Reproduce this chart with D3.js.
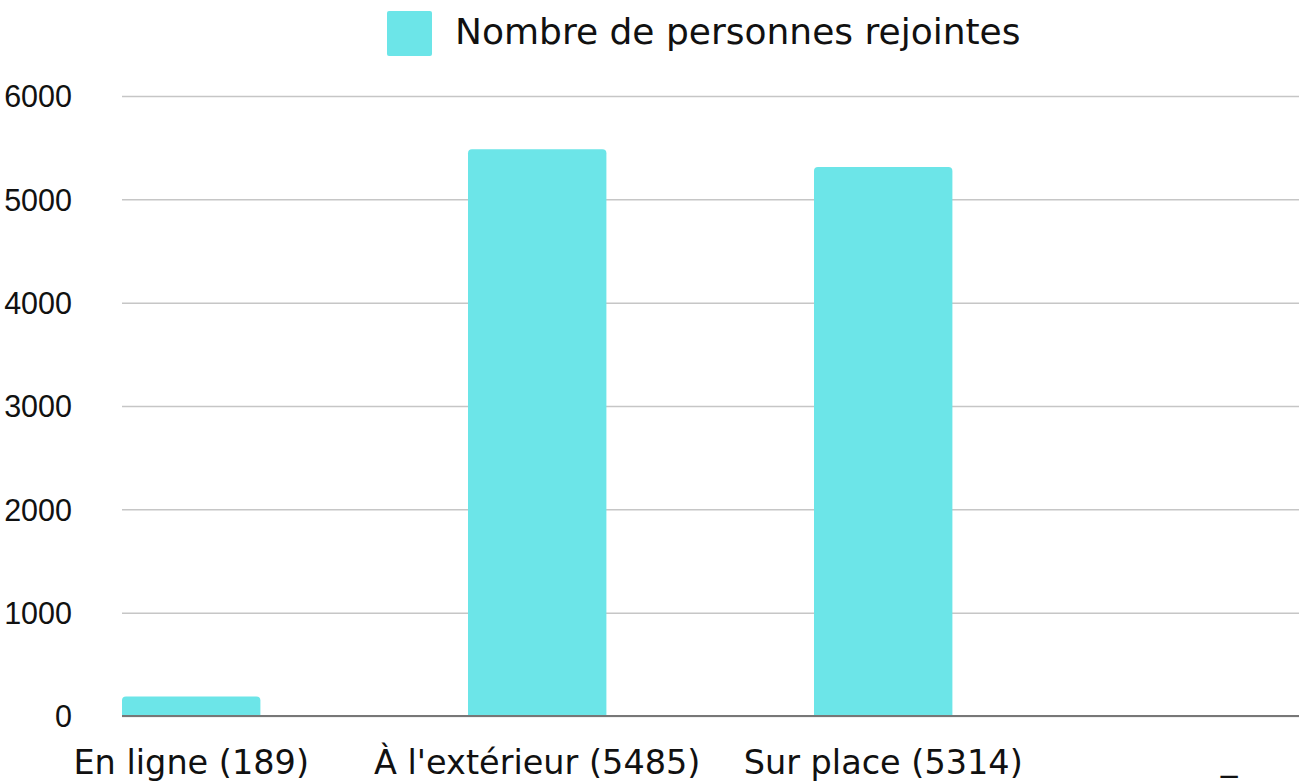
<!DOCTYPE html>
<html>
<head>
<meta charset="utf-8">
<script src="https://cdn.jsdelivr.net/npm/d3@7"></script>
<style>
  body { margin: 0; background: #fff; }
  text { fill: #111; }
</style>
</head>
<body>
<div id="chart-area"></div>
<script>
//======================= DATA =======================
var categories = ["En ligne (189)", "À l'extérieur (5485)", "Sur place (5314)", "_"];
var values = [189, 5485, 5314, 0];
var yTicks = [0, 1000, 2000, 3000, 4000, 5000, 6000];
var seriesName = "Nombre de personnes rejointes";

//======================= LAYOUT =======================
var W = 1303, H = 783;
var margins = { left: 122, right: 4, top: 96, bottom: 67 };
var height = H - margins.top - margins.bottom;
var barColor = "#6ce5e8";
var wideFont = "'DejaVu Sans', sans-serif";
var numFont = "'Liberation Sans', Arial, sans-serif";

var svg = d3.select("#chart-area")
    .append("svg")
    .attr("width", W)
    .attr("height", H);

var g = svg.append("g")
    .attr("transform", "translate(" + margins.left + ", " + margins.top + ")");

// band scale: each category gets 346px, bar sits at the left of its band
var x = d3.scaleBand()
    .domain(categories)
    .range([0, 346 * categories.length])
    .paddingInner(0)
    .paddingOuter(0);
var barW = x.bandwidth() * 0.4;

var y = d3.scaleLinear()
    .domain([0, 6000])
    .range([height, 0]);

var plotRight = W - margins.right - margins.left;

// gridlines + tick labels
var yAxisCall = d3.axisLeft(y)
    .tickValues(yTicks)
    .tickFormat(d3.format("d"))
    .tickSize(-plotRight)
    .tickPadding(50);
var yAxis = g.append("g")
    .attr("class", "y axis")
    .call(yAxisCall);
yAxis.select(".domain").remove();
yAxis.selectAll("line")
    .style("stroke", "#c6c6c6")
    .style("stroke-width", 1.5);
yAxis.selectAll("text")
    .style("font-size", "30.5px")
    .style("font-family", numFont)
    .style("fill", "#111")
    .attr("dy", "0.36em");

// bars, rounded top corners only
function barPath(d, i) {
    var x0 = x(categories[i]), x1 = x0 + barW;
    var yt = y(d), yb = y(0);
    var r = Math.min(4, (yb - yt) / 2);
    return "M" + x0 + "," + yb +
        "V" + (yt + r) +
        "Q" + x0 + "," + yt + " " + (x0 + r) + "," + yt +
        "H" + (x1 - r) +
        "Q" + x1 + "," + yt + " " + x1 + "," + (yt + r) +
        "V" + yb + "Z";
}
g.selectAll("path.bar")
    .data(values)
    .enter()
    .append("path")
    .attr("class", "bar")
    .attr("d", barPath)
    .attr("fill", barColor)
    .attr("display", function(d){ return d > 0 ? null : "none"; });

// baseline
g.append("line")
    .attr("x1", 0).attr("x2", plotRight)
    .attr("y1", y(0)).attr("y2", y(0))
    .style("stroke", "#777")
    .style("stroke-width", 2);

// category labels centred under bars
g.selectAll("text.cat")
    .data(categories)
    .enter()
    .append("text")
    .attr("class", "cat")
    .attr("x", function(d){ return x(d) + barW / 2; })
    .attr("y", function(d){ return d === "_" ? height + 54 : height + 58; })
    .attr("text-anchor", "middle")
    .style("font-family", wideFont)
    .style("font-size", "33.5px")
    .text(function(d){ return d; });

// legend
svg.append("rect")
    .attr("x", 387).attr("y", 11)
    .attr("width", 45).attr("height", 45)
    .attr("rx", 2)
    .attr("fill", barColor);
svg.append("text")
    .attr("x", 455).attr("y", 44)
    .style("font-family", wideFont)
    .style("font-size", "36px")
    .text(seriesName);
</script>
</body>
</html>
